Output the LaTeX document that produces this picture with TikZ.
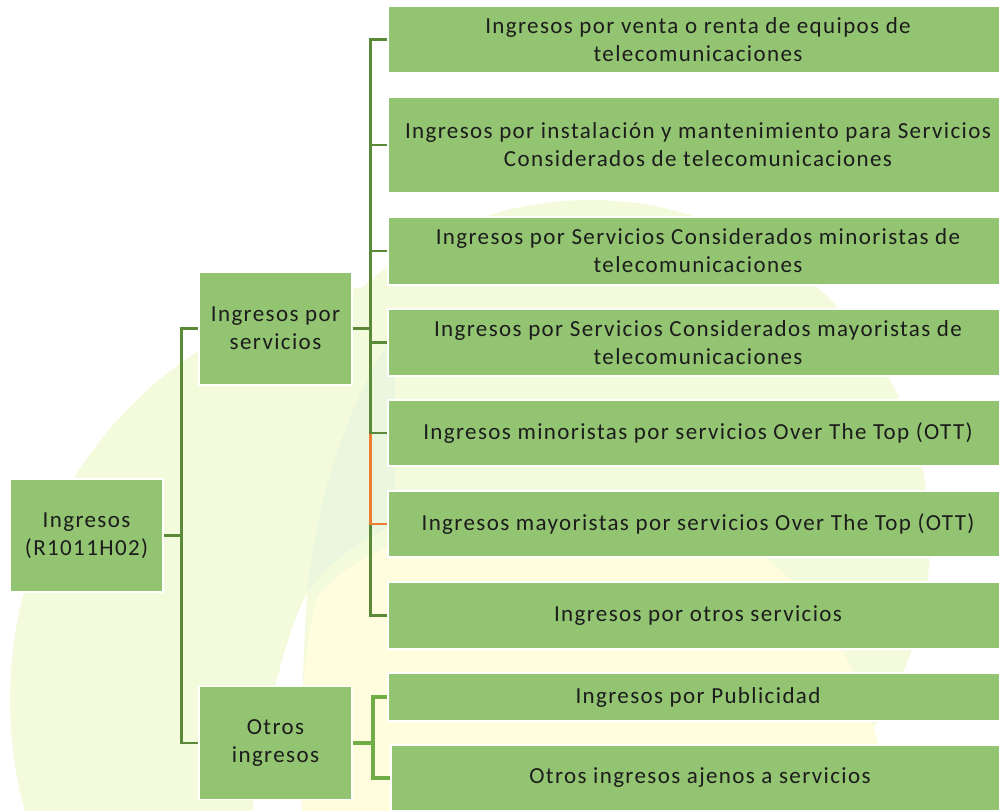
\documentclass[tikz,border=0pt]{standalone}
\usepackage{fontspec}
\setmainfont{Carlito}[LetterSpace=6]

\definecolor{boxgreen}{RGB}{147,196,114}
\definecolor{linkgreen}{RGB}{90,138,56}
\definecolor{lightlink}{RGB}{112,173,71}
\definecolor{linkorange}{RGB}{237,125,49}
\definecolor{wmpale}{RGB}{244,251,221}
\definecolor{wmgreen}{RGB}{234,246,221}
\definecolor{wmyellow}{RGB}{255,253,222}
\definecolor{txtgray}{RGB}{28,28,28}

\begin{document}
\begin{tikzpicture}[x=0.75pt, y=-0.75pt,
    box/.style={fill=boxgreen, draw=white, line width=1.2pt, align=center, inner sep=0pt,
        text=txtgray, font=\fontsize{17.25}{21}\selectfont},
    leftbox/.style={box, minimum width=114.75pt, minimum height=85pt},
    rightbox/.style={box, minimum width=465pt},
    link/.style={draw=linkgreen, line width=2.2pt},
    linkorange/.style={draw=linkorange, line width=2.2pt},
    linklight/.style={draw=lightlink, line width=3.2pt}]
    \useasboundingbox (0,0) rectangle (999,810);
    % Watermark in the background
    \fill[wmpale] (428,700) circle [radius=418];
    \fill[wmpale] (590,540) circle [radius=340];
    \fill[white] (252,812) .. controls (268,700) and (288,630) .. (307,593) .. controls (303,660) and (300,730) .. (302,812) -- cycle;
    \fill[wmyellow] (302,812) .. controls (300,720) and (303,640) .. (318,596) .. controls (380,520) and (560,490) .. (700,525) .. controls (820,560) and (880,700) .. (890,812) -- cycle;
    \fill[wmgreen] (307,593) .. controls (318,500) and (340,420) .. (395,330) -- (395,525) .. controls (360,540) and (330,560) .. (307,593) -- cycle;
    % Left column
    \node[leftbox] (root) at (86.5,535.5) {Ingresos\\(R1011H02)};
    \node[leftbox] (srv) at (275.5,328.5) {Ingresos por\\servicios};
    \node[leftbox] (otros) at (275.5,743) {Otros\\ingresos};
    % Right column
    \node[rightbox, minimum height=50.25pt] (b1) at (698,39.5) {Ingresos por venta o renta de equipos de\\telecomunicaciones};
    \node[rightbox, minimum height=72pt] (b2) at (698,145) {Ingresos por instalación y mantenimiento para Servicios\\Considerados de telecomunicaciones};
    \node[rightbox, minimum height=51pt] (b3) at (698,251) {Ingresos por Servicios Considerados minoristas de\\telecomunicaciones};
    \node[rightbox, minimum height=50.25pt] (b4) at (698,342.5) {Ingresos por Servicios Considerados mayoristas de\\telecomunicaciones};
    \node[rightbox, minimum height=49.5pt] (b5) at (698,433) {Ingresos minoristas por servicios Over The Top (OTT)};
    \node[rightbox, minimum height=49.5pt] (b6) at (698,524) {Ingresos mayoristas por servicios Over The Top (OTT)};
    \node[rightbox, minimum height=50.25pt] (b7) at (698,615.5) {Ingresos por otros servicios};
    \node[rightbox, minimum height=36pt] (b8) at (698,697) {Ingresos por Publicidad};
    \node[rightbox, minimum height=49.5pt, minimum width=463.5pt] (b9) at (700,778) {Otros ingresos ajenos a servicios};
    % Connectors from the root
    \draw[link] (root.east) -- ++(18,0) |- (srv.west);
    \draw[link] (root.east) -- ++(18,0) |- (otros.west);
    % Connectors from Ingresos por servicios
    \draw[link] (srv.east) -- ++(18,0) |- (b7.west);
    \draw[linkorange] (srv.east) -- ++(18,0) |- (b6.west);
    \draw[link] (srv.east) -- ++(18,0) |- (b5.west);
    \draw[link] (srv.east) -- ++(18,0) |- (b4.west);
    \draw[link] (srv.east) -- ++(18,0) |- (b3.west);
    \draw[link] (srv.east) -- ++(18,0) |- (b2.west);
    \draw[link] (srv.east) -- ++(18,0) |- (b1.west);
    % Connectors from Otros ingresos
    \draw[linklight] (otros.east) -- ++(20,0) |- (b8.west);
    \draw[linklight] (otros.east) -- ++(20,0) |- (b9.west);
\end{tikzpicture}
\end{document}
